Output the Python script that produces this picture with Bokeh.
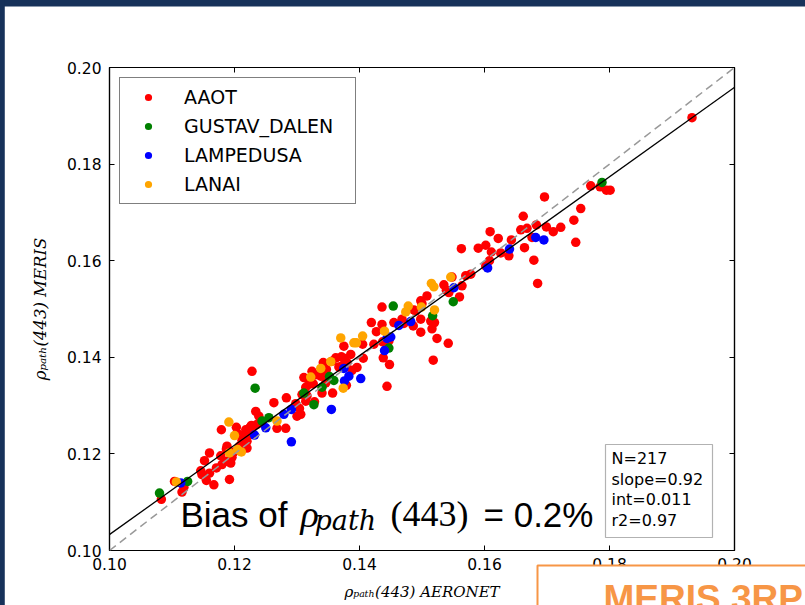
from bokeh.plotting import figure
from bokeh.models import (Range1d, FixedTicker, NumeralTickFormatter, LinearAxis, Legend,
                          LegendItem, Label, BoxAnnotation, Slope, CustomJSTickFormatter)
from bokeh.embed import file_html
from bokeh.resources import INLINE

# ---------------- data ----------------
stations = ["AAOT", "GUSTAV_DALEN", "LAMPEDUSA", "LANAI"]
station_colors = ["#ff0000", "#008000", "#0000ff", "#ffa500"]

aaot_x = [0.1932, 0.1770, 0.1785, 0.1795, 0.1801, 0.1696, 0.1754, 0.1743, 0.1662, 0.1683,
          0.1668, 0.1699, 0.1722, 0.1710, 0.1676, 0.1664, 0.1746, 0.1679, 0.1685,
          0.1658, 0.1609, 0.1622, 0.1643, 0.1563, 0.1590, 0.1602, 0.1611, 0.1626, 0.1639,
          0.1608, 0.1602, 0.1570, 0.1578, 0.1564, 0.1560,
          0.1548, 0.1535, 0.1539, 0.1543, 0.1508, 0.1498, 0.1500, 0.1436, 0.1487, 0.1490,
          0.1514, 0.1520, 0.1516, 0.1498, 0.1468, 0.1471, 0.1486, 0.1455, 0.1436, 0.1498,
          0.1524, 0.1542, 0.1447, 0.1438, 0.1448, 0.1518,
          0.1419, 0.1427, 0.1437, 0.1423, 0.1405, 0.1375, 0.1406, 0.1371, 0.1362, 0.1356,
          0.1342, 0.1372, 0.1367, 0.1347, 0.1338, 0.1346, 0.1324, 0.1311, 0.1319, 0.1314,
          0.1388, 0.1340, 0.1357, 0.1379, 0.1444, 0.1308, 0.1316, 0.1328,
          0.1228, 0.1263, 0.1283, 0.1234, 0.1239, 0.1236, 0.1228, 0.1268, 0.1282, 0.1298,
          0.1300, 0.1306, 0.1304, 0.1314, 0.1346, 0.1350, 0.1338, 0.1330, 0.1326, 0.1380,
          0.1386, 0.1375, 0.1396,
          0.1083, 0.1104, 0.1119, 0.1116, 0.1146, 0.1148, 0.1155, 0.1167, 0.1160, 0.1152,
          0.1160, 0.1171, 0.1180, 0.1178, 0.1187, 0.1194, 0.1192, 0.1179, 0.1203, 0.1207,
          0.1187, 0.1188, 0.1199, 0.1196, 0.1208, 0.1220, 0.1212, 0.1220, 0.1216, 0.1224,
          0.1227, 0.1224, 0.1218]
aaot_y = [0.1896, 0.1755, 0.1753, 0.1746, 0.1746, 0.1732, 0.1708, 0.1684, 0.1692, 0.1674,
          0.1667, 0.1670, 0.1669, 0.1660, 0.1648, 0.1627, 0.1638, 0.1601, 0.1553,
          0.1664, 0.1660, 0.1646, 0.1643, 0.1625, 0.1626, 0.1632, 0.1618, 0.1616, 0.1610,
          0.1600, 0.1589, 0.1569, 0.1572, 0.1548, 0.1525,
          0.1566, 0.1550, 0.1539, 0.1534, 0.1527, 0.1517, 0.1511, 0.1504, 0.1498, 0.1496,
          0.1475, 0.1472, 0.1459, 0.1479, 0.1479, 0.1470, 0.1465, 0.1472, 0.1468, 0.1452,
          0.1439, 0.1429, 0.1434, 0.1399, 0.1385, 0.1394,
          0.1472, 0.1453, 0.1432, 0.1427, 0.1427, 0.1423, 0.1398, 0.1401, 0.1399, 0.1392,
          0.1389, 0.1382, 0.1380, 0.1375, 0.1368, 0.1368, 0.1371, 0.1358, 0.1344, 0.1338,
          0.1373, 0.1326, 0.1326, 0.1342, 0.1340, 0.1323, 0.1320, 0.1308,
          0.1371, 0.1306, 0.1316, 0.1288, 0.1278, 0.1261, 0.1254, 0.1253, 0.1253, 0.1304,
          0.1278, 0.1282, 0.1294, 0.1309, 0.1347, 0.1357, 0.1361, 0.1364, 0.1345, 0.1389,
          0.1406, 0.1398, 0.1379,
          0.1106, 0.1143, 0.1131, 0.1121, 0.1165, 0.1157, 0.1145, 0.1136, 0.1160, 0.1186,
          0.1202, 0.1171, 0.1178, 0.1196, 0.1185, 0.1181, 0.1147, 0.1250, 0.1255, 0.1240,
          0.1210, 0.1216, 0.1204, 0.1193, 0.1216, 0.1212, 0.1228, 0.1226, 0.1237, 0.1240,
          0.1259, 0.1254, 0.1250]

gustav_x = [0.1788, 0.1550, 0.1454, 0.1517, 0.1447, 0.1359, 0.1352, 0.1340, 0.1327, 0.1233,
            0.1244, 0.1255, 0.1311, 0.1080, 0.1125]
gustav_y = [0.1762, 0.1515, 0.1506, 0.1486, 0.1419, 0.1352, 0.1360, 0.1338, 0.1302, 0.1336,
            0.1268, 0.1275, 0.1326, 0.1119, 0.1143]

lampedusa_x = [0.1682, 0.1695, 0.1640, 0.1605, 0.1551, 0.1482, 0.1463, 0.1444, 0.1450, 0.1440,
               0.1375, 0.1383, 0.1376, 0.1402, 0.1355, 0.1250, 0.1279, 0.1291, 0.1114, 0.1232,
               0.1291]
lampedusa_y = [0.1648, 0.1643, 0.1624, 0.1585, 0.1544, 0.1474, 0.1466, 0.1439, 0.1442, 0.1414,
               0.1377, 0.1361, 0.1351, 0.1356, 0.1292, 0.1254, 0.1282, 0.1292, 0.1140, 0.1239,
               0.1225]

lanai_x = [0.1546, 0.1515, 0.1519, 0.1478, 0.1474, 0.1499, 0.1520, 0.1440, 0.1391, 0.1395,
           0.1370, 0.1405, 0.1354, 0.1338, 0.1322, 0.1374, 0.1268, 0.1107, 0.1191, 0.1200,
           0.1192, 0.1205, 0.1211]
lanai_y = [0.1566, 0.1553, 0.1546, 0.1506, 0.1494, 0.1504, 0.1498, 0.1454, 0.1430, 0.1430,
           0.1440, 0.1444, 0.1391, 0.1377, 0.1359, 0.1336, 0.1268, 0.1142, 0.1266, 0.1238,
           0.1202, 0.1209, 0.1204]

fit_slope = 0.926
fit_intercept = 0.0107
stats_lines = ["N=217", "slope=0.92", "int=0.011", "r2=0.97"]
tick_values = [0.10, 0.12, 0.14, 0.16, 0.18, 0.20]

NAVY = "#17325a"
ORANGE = "#f79646"

# ---------------- figure ----------------
p = figure(width=805, height=605, output_backend="svg", toolbar_location=None,
           x_range=Range1d(0.10, 0.20), y_range=Range1d(0.10, 0.20),
           min_border_left=109, min_border_right=71, min_border_top=67, min_border_bottom=55,
           background_fill_color="white", border_fill_color="white")
p.grid.visible = False
p.outline_line_color = "black"
p.outline_line_width = 1.2

ticker = FixedTicker(ticks=tick_values)

def style_axis(ax):
    ax.ticker = ticker
    ax.axis_line_color = "black"
    ax.axis_line_width = 1.2
    ax.major_tick_line_color = "black"
    ax.major_tick_in = 5
    ax.major_tick_out = 0
    ax.minor_tick_in = 0
    ax.minor_tick_out = 0
    ax.major_label_text_font = "DejaVu Sans"
    ax.major_label_text_font_size = "15.5px"
    ax.major_label_text_color = "black"

for ax in [p.xaxis[0], p.yaxis[0]]:
    style_axis(ax)
    ax.formatter = NumeralTickFormatter(format="0.00")
    ax.axis_label_text_font = "DejaVu Serif"
    ax.axis_label_text_font_style = "italic"
    ax.axis_label_text_color = "black"

p.xaxis[0].axis_label_text_font_size = "15px"
p.yaxis[0].axis_label_text_font_size = "16.5px"
p.xaxis[0].major_label_standoff = 7
p.yaxis[0].major_label_standoff = 8
p.xaxis[0].axis_label = "ρₚₐₜₕ(443) AERONET"
p.yaxis[0].axis_label = "ρₚₐₜₕ(443) MERIS"
p.xaxis[0].axis_label_standoff = 10
p.yaxis[0].axis_label_standoff = 14

blank = CustomJSTickFormatter(code="return ''")
for loc in ["above", "right"]:
    ax = LinearAxis()
    style_axis(ax)
    ax.formatter = blank
    ax.major_label_standoff = 0
    ax.major_label_text_font_size = "0px"
    p.add_layout(ax, loc)

# ---------------- scatter ----------------
series = [(aaot_x, aaot_y), (gustav_x, gustav_y), (lampedusa_x, lampedusa_y), (lanai_x, lanai_y)]
items = []
for name, color, (xs, ys) in zip(stations, station_colors, series):
    r = p.scatter(xs, ys, size=9.5, fill_color=color, line_color=None, marker="circle")
    items.append(LegendItem(label=name, renderers=[r]))

# 1:1 dashed and regression lines
p.add_layout(Slope(gradient=1.0, y_intercept=0.0, line_color="#999999", line_width=1.5,
                   line_dash="8 5"))
p.add_layout(Slope(gradient=fit_slope, y_intercept=fit_intercept, line_color="black",
                   line_width=1.3))

legend = Legend(items=items, location="top_left", margin=10, padding=8, spacing=7,
                glyph_width=40, glyph_height=18, label_height=22, label_width=163,
                label_standoff=16, label_text_font="DejaVu Sans", label_text_font_size="19px",
                label_text_color="black", border_line_color="black", border_line_width=1.2,
                background_fill_color="white", background_fill_alpha=1)
p.add_layout(legend)

# stats box
p.add_layout(BoxAnnotation(left=496, right=603, top=106, bottom=13,
                           left_units="screen", right_units="screen",
                           top_units="screen", bottom_units="screen",
                           fill_color="white", fill_alpha=1, line_color="black", line_width=1.2))
for i, t in enumerate(stats_lines):
    p.add_layout(Label(x=502, y=101.5 - i * 20.5, x_units="screen", y_units="screen", text=t,
                       text_font="DejaVu Sans", text_font_size="16px", text_color="black",
                       text_baseline="top"))

# big bias text
def lab(x, y, text, font, size, style="normal"):
    p.add_layout(Label(x=x, y=y, x_units="screen", y_units="screen", text=text,
                       text_font=font, text_font_size=size, text_font_style=style,
                       text_color="black", text_baseline="top"))

lab(71, 56, "Bias of", "Liberation Sans", "35px")
lab(191, 58, "ρ", "Liberation Serif", "38px", "italic")
lab(205, 46, "path", "DejaVu Serif", "27px", "italic")
lab(281, 57, "(443)", "Liberation Serif", "36px")
lab(374, 56, "= 0.2%", "Liberation Sans", "35px")

# slide decorations placed in side panels so that they are not clipped to the frame
# navy band along the top of the slide
p.add_layout(Label(x=-120, y=69, x_units="screen", y_units="screen", text=" ",
                   text_font_size="1px", text_baseline="top",
                   background_fill_color=NAVY, background_fill_alpha=1,
                   padding=dict(left=0, right=1000, top=5, bottom=2)), "above")
# orange title box (cut off at bottom right)
p.add_layout(Label(x=428, y=-506, x_units="screen", y_units="screen", text="MERIS 3RP",
                   text_font="Liberation Sans", text_font_size="37px", text_font_style="bold",
                   text_color=ORANGE, text_baseline="top",
                   border_line_color=ORANGE, border_line_width=2,
                   background_fill_color="white", background_fill_alpha=1,
                   padding=dict(left=66, right=100, top=12, bottom=0)), "above")
# navy band along the left of the slide
p.add_layout(Label(x=-738, y=650, x_units="screen", y_units="screen", text=" ",
                   text_font_size="1px", text_baseline="top",
                   background_fill_color=NAVY, background_fill_alpha=1,
                   padding=dict(left=3, right=5, top=0, bottom=900)), "right")

open("out.html", "w").write(file_html(p, INLINE))
